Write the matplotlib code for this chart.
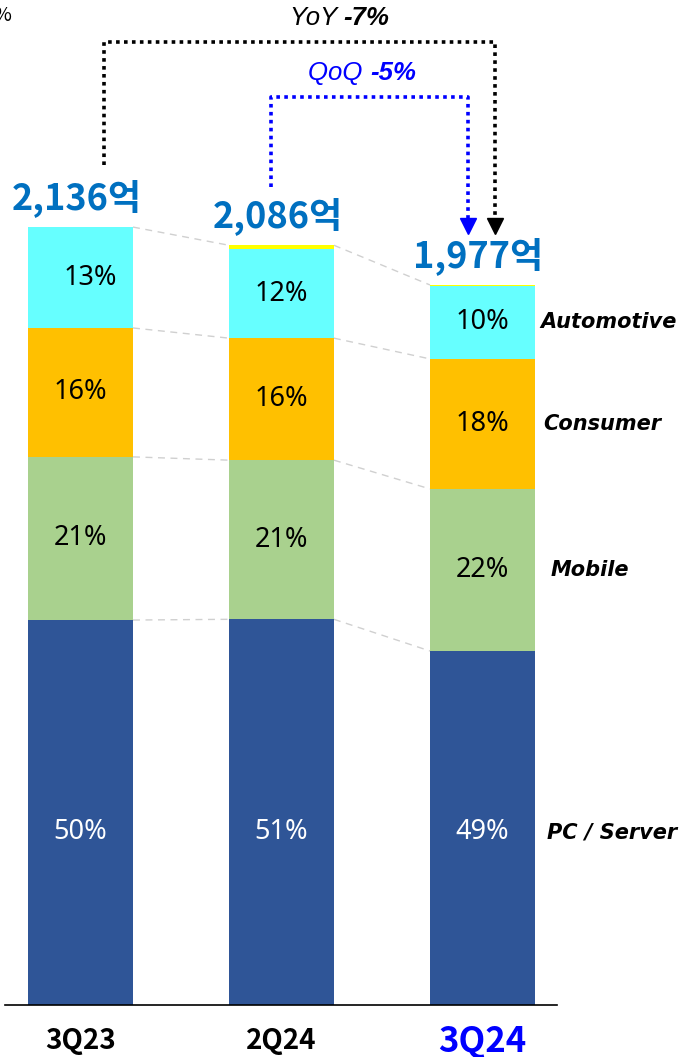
import matplotlib.pyplot as plt
import numpy as np

# revenue by application, 억 (segment sizes)
quarters = ['3Q23', '2Q24', '3Q24']
totals = [2136, 2086, 1977]
pc_server = [1057, 1059, 972]
mobile = [448, 437, 445]
consumer = [354, 335, 357]
automotive = [277, 244, 201]
other = [0, 11, 2]
pct_labels = {
    'PC / Server': ['50%', '51%', '49%'],
    'Mobile': ['21%', '21%', '22%'],
    'Consumer': ['16%', '16%', '18%'],
    'Automotive': ['13%', '12%', '10%'],
}
yoy_text = '-7%'
qoq_text = '-5%'

KR = ['Noto Sans CJK KR', 'DejaVu Sans']
plt.rcParams['font.family'] = KR

fig = plt.figure(figsize=(6.79, 10.57), dpi=100)
# px per 억 chosen so the picture scale matches
ax = fig.add_axes([5 / 679, 52 / 1057, 552 / 679, 1005 / 1057])

x = np.arange(len(quarters))
w = 0.522
series = [
    ('PC / Server', pc_server, '#2F5597', 'white'),
    ('Mobile', mobile, '#A9D18E', 'black'),
    ('Consumer', consumer, '#FFC000', 'black'),
    ('Automotive', automotive, '#66FFFF', 'black'),
    ('Other', other, '#FFFF00', None),
]
name_dx = {'Automotive': 0.0, 'Consumer': 0.015, 'Mobile': 0.055, 'PC / Server': 0.035}

bottom = np.zeros(len(quarters))
bounds = []
for name, vals, col, tcol in series:
    vals = np.array(vals, dtype=float)
    ax.bar(x, vals, w, bottom=bottom, color=col, edgecolor='none', zorder=2)
    if name in pct_labels:
        for i in range(len(x)):
            ypos = 475 if name == 'PC / Server' else bottom[i] + vals[i] / 2
            dx = 0.05 if (name == 'Automotive' and i == 0) else 0
            ax.text(x[i] + dx, ypos, pct_labels[name][i], ha='center', va='center',
                    fontsize=19.5, family='Noto Sans', color=tcol, zorder=3)
        # segment name to the right of the last bar
        ypos = 475 if name == 'PC / Server' else bottom[-1] + vals[-1] / 2
        ax.text(x[-1] + w / 2 + 0.025 + name_dx[name], ypos, name,
                ha='left', va='center', fontsize=15, fontweight='bold',
                style='italic', family='DejaVu Sans', zorder=3)
    bottom = bottom + vals
    if name in ('PC / Server', 'Mobile', 'Consumer'):
        bounds.append(bottom.copy())
bounds.append(np.array(totals, dtype=float))

# dashed grey connectors between bars
for b in bounds:
    for i in range(len(x) - 1):
        ax.plot([x[i] + w / 2, x[i + 1] - w / 2], [b[i], b[i + 1]],
                color='#D0D0D0', ls=(0, (5, 4)), lw=1, zorder=1)

# totals
for i, t in enumerate(totals):
    ax.text(x[i] - 0.02, t + 80, f'{t:,}억', ha='center', va='center',
            fontsize=26, fontweight='bold', color='#0070C0')

# YoY / QoQ brackets
dot = (0, (1, 1.2))
ax.plot([0.117, 0.117, 2.062, 2.062], [2306, 2644, 2644, 2150],
        color='black', lw=2.6, ls=dot, clip_on=False)
ax.plot([2.062], [2140], marker='v', ms=11, color='black', clip_on=False)
ax.plot([0.948, 0.948, 1.928, 1.928], [2246, 2493, 2493, 2150],
        color='#0000FF', lw=2.6, ls=dot, clip_on=False)
ax.plot([1.928], [2140], marker='v', ms=11, color='#0000FF', clip_on=False)

ax.text(1.31, 2710, 'YoY ', ha='right', va='center', fontsize=18.5,
        style='italic', family='Liberation Sans')
ax.text(1.31, 2710, yoy_text, ha='left', va='center', fontsize=18.5,
        style='italic', fontweight='bold', family='Liberation Sans')
ax.text(1.44, 2558, 'QoQ ', ha='right', va='center', fontsize=18.5,
        style='italic', family='Liberation Sans', color='#0000FF')
ax.text(1.44, 2558, qoq_text, ha='left', va='center', fontsize=18.5,
        style='italic', fontweight='bold', family='Liberation Sans', color='#0000FF')

fig.text(-0.01, 0.985, '%', ha='left', va='center', fontsize=14)

ax.set_xlim(-0.376, 2.371)
ax.set_ylim(0, 1005 / 0.3642)
for s in ['top', 'right', 'left']:
    ax.spines[s].set_visible(False)
ax.spines['bottom'].set_linewidth(1.2)
ax.set_yticks([])
ax.set_xticks([])
# quarter labels under the bars
for i, q in enumerate(quarters):
    last = i == len(quarters) - 1
    ax.text(x[i], -100, q, ha='center', va='center', fontweight='bold',
            fontsize=25 if last else 20, color='#0000FF' if last else 'black',
            clip_on=False)

fig.savefig('out.png', dpi=100)
